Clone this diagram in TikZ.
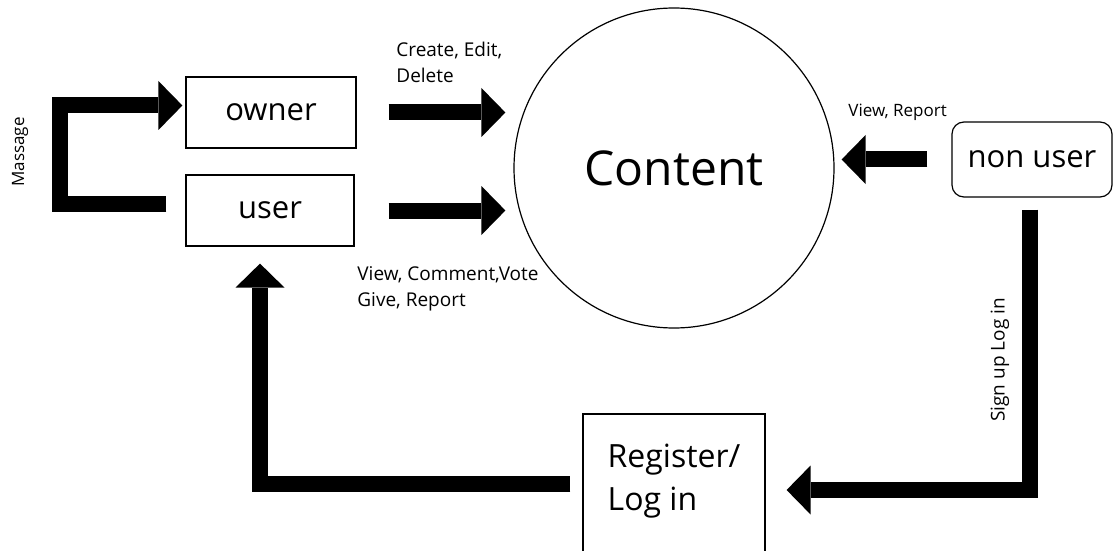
\documentclass[tikz,border=0pt]{standalone}
\usepackage{fontspec}
\setmainfont{Open Sans}
\usetikzlibrary{arrows.meta}
\tikzset{
	box/.style={draw, line width=0.6pt, inner sep=0pt, font=\fontsize{15.5}{18}\selectfont},
	bigarrow/.style={line width=8pt, line join=miter, -{Triangle[length=12pt,width=24.5pt,line width=0pt]}},
	lbl/.style={inner sep=0pt, align=left, font=\fontsize{9.5}{13}\selectfont},
}

\begin{document}
\begin{tikzpicture}[x=0.5pt, y=-0.5pt]
		%%%%% START %%%%%
		\useasboundingbox (0,0) rectangle (1114,551);
		
		\node[box, minimum width=85pt, minimum height=35.5pt] (owner) at (271,112.5) {owner};
		\node[box, minimum width=84pt, minimum height=35.5pt] (user) at (270,210.5) {user};
		\node[draw, circle, line width=0.6pt, minimum size=160pt, inner sep=0pt, font=\fontsize{24}{28}\selectfont] (content) at (674,168) {Content};
		\node[box, rounded corners=6pt, minimum width=80pt, minimum height=37.5pt] (nonuser) at (1032,159.5) {non user};
		\node[box, minimum width=91pt, minimum height=76pt, font=\fontsize{16}{21.5}\selectfont] (register) at (674,490)
			{\raisebox{5pt}[\height][\depth]{\begin{tabular}{@{}l@{}}Register/\\Log in\end{tabular}}};
		
		\draw[bigarrow] ([shift={(-9.5pt,3.25pt)}]user.west) -| ([shift={(-62.5pt,3.5pt)}]owner.west) -- ([shift={(-1.5pt,3.5pt)}]owner.west);
		\node[lbl, rotate=90, font=\fontsize{8.5}{11}\selectfont] (msglbl) at (20,152) {Massage};
		
		\draw[bigarrow, shorten <=16pt, shorten >=4pt] (owner.east) -- (owner.east -| content.west);
		\node[lbl, anchor=north west] (ownerlbl) at (396,42) {Create, Edit,\\Delete};
		
		\draw[bigarrow, shorten <=17pt, shorten >=4pt] (user.east) -- (user.east -| content.west);
		\node[lbl, anchor=north west] (userlbl) at (357,266) {View, Comment,Vote\\Give, Report};
		
		\draw[bigarrow, shorten <=12pt, shorten >=3.5pt] (nonuser.west) -- (nonuser.west -| content.east);
		\node[lbl, anchor=north west, font=\fontsize{8.5}{11}\selectfont] (nonuserlbl) at (848,104) {View, Report};
		
		\draw[bigarrow, shorten <=6pt, shorten >=10.5pt] ([xshift=-1pt]nonuser.south) |- (register.east);
		\node[lbl, rotate=90] (signlbl) at (1000,360) {Sign up Log in};
		
		\draw[bigarrow, shorten <=6pt] ([yshift=3pt]register.west) -| ([shift={(-5pt,-8.5pt)}]user.south);
		
		%%%%% END %%%%%
\end{tikzpicture}
\end{document}
